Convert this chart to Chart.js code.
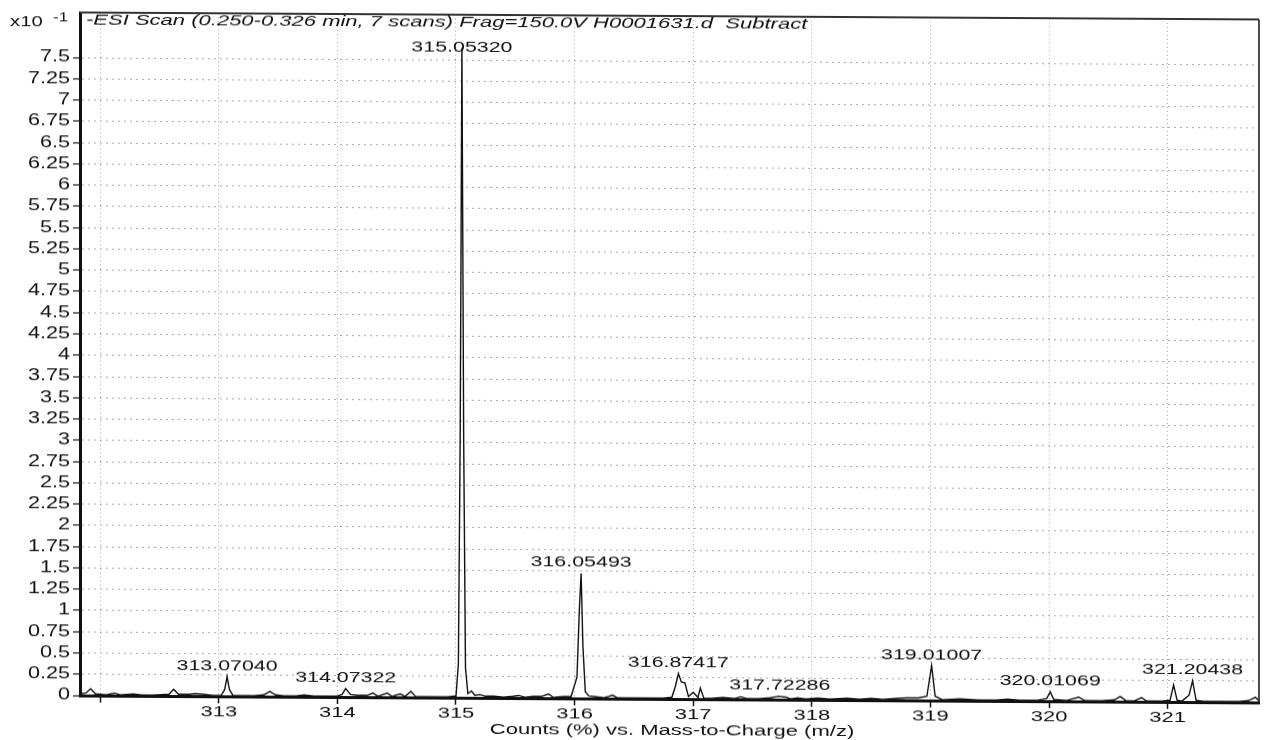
<!DOCTYPE html>
<html>
<head>
<meta charset="utf-8">
<script src="https://cdn.jsdelivr.net/npm/chart.js@4/dist/chart.umd.min.js"></script>
<style>
  html, body { margin: 0; padding: 0; background: #fff; overflow: hidden; }
  /* the scanned page is slightly sheared: right side sits ~7px lower */
  canvas { display: block; transform: skewY(0.34deg); transform-origin: 0 0; }
</style>
</head>
<body>
<canvas id="spectrum" width="1264" height="740"></canvas>
<script>
// Profile spectrum (m/z, counts x10^-1)
const mzValues = [
  311.83, 311.88, 311.92, 311.96, 312.05, 312.12, 312.17, 312.28, 312.35, 312.45,
  312.58, 312.62, 312.66, 312.75, 312.80, 312.88, 312.95, 313.02, 313.05, 313.07,
  313.09, 313.12, 313.20, 313.30, 313.38, 313.43, 313.48, 313.55, 313.65, 313.72,
  313.80, 313.92, 314.00, 314.04, 314.07, 314.11, 314.17, 314.25, 314.30, 314.34,
  314.42, 314.46, 314.53, 314.57, 314.62, 314.66, 314.75, 314.85, 314.93, 315.00,
  315.02, 315.035, 315.05, 315.065, 315.08, 315.10, 315.13, 315.16, 315.20, 315.25,
  315.32, 315.40, 315.48, 315.53, 315.58, 315.65, 315.72, 315.78, 315.82, 315.90,
  315.97, 316.02, 316.04, 316.055, 316.07, 316.09, 316.12, 316.18, 316.25, 316.32,
  316.36, 316.45, 316.55, 316.65, 316.75, 316.82, 316.85, 316.875, 316.90, 316.93,
  316.96, 317.00, 317.04, 317.06, 317.09, 317.15, 317.25, 317.35, 317.40, 317.45,
  317.55, 317.65, 317.72, 317.78, 317.82, 317.88, 317.95, 318.05, 318.15, 318.30,
  318.40, 318.50, 318.60, 318.70, 318.80, 318.90, 318.97, 319.01, 319.04, 319.10,
  319.25, 319.40, 319.55, 319.65, 319.75, 319.90, 319.98, 320.01, 320.04, 320.15,
  320.25, 320.30, 320.45, 320.55, 320.60, 320.65, 320.72, 320.78, 320.82, 320.95,
  321.02, 321.05, 321.08, 321.12, 321.18, 321.21, 321.24, 321.30, 321.45, 321.60,
  321.68, 321.74, 321.77
];
const counts = [
  0.02, 0.03, 0.08, 0.02, 0.01, 0.03, 0.01, 0.02, 0.01, 0.01,
  0.02, 0.08, 0.02, 0.02, 0.03, 0.02, 0.01, 0.01, 0.08, 0.23,
  0.08, 0.01, 0.01, 0.01, 0.02, 0.06, 0.02, 0.01, 0.01, 0.02,
  0.01, 0.01, 0.01, 0.03, 0.10, 0.03, 0.02, 0.02, 0.05, 0.01,
  0.05, 0.01, 0.04, 0.01, 0.07, 0.01, 0.01, 0.01, 0.01, 0.02,
  0.40, 3.00, 7.64, 3.00, 0.35, 0.05, 0.08, 0.03, 0.04, 0.02,
  0.02, 0.01, 0.02, 0.03, 0.01, 0.02, 0.02, 0.05, 0.01, 0.02,
  0.02, 0.25, 1.05, 1.47, 0.62, 0.08, 0.03, 0.02, 0.01, 0.04,
  0.01, 0.01, 0.01, 0.01, 0.01, 0.02, 0.15, 0.30, 0.20, 0.19,
  0.03, 0.08, 0.02, 0.13, 0.01, 0.01, 0.02, 0.01, 0.03, 0.01,
  0.01, 0.02, 0.04, 0.03, 0.01, 0.02, 0.01, 0.02, 0.01, 0.02,
  0.01, 0.02, 0.01, 0.02, 0.03, 0.03, 0.05, 0.41, 0.05, 0.01,
  0.02, 0.01, 0.01, 0.02, 0.01, 0.01, 0.03, 0.11, 0.02, 0.01,
  0.05, 0.01, 0.01, 0.02, 0.06, 0.01, 0.01, 0.05, 0.01, 0.01,
  0.02, 0.20, 0.02, 0.01, 0.08, 0.25, 0.02, 0.01, 0.01, 0.01,
  0.02, 0.06, 0.02
];

// Annotated peaks
const peakLabels = ['313.07040', '314.07322', '315.05320', '316.05493', '316.87417',
                    '317.72286', '319.01007', '320.01069', '321.20438'];
const peakMz     = [313.07, 314.07, 315.05, 316.055, 316.875, 317.73, 319.01, 320.01, 321.21];
const peakTop    = [0.23, 0.10, 7.64, 1.47, 0.30, 0.04, 0.41, 0.11, 0.25];

const xTicks = [312, 313, 314, 315, 316, 317, 318, 319, 320, 321];
const yTicks = [0, 0.25, 0.5, 0.75, 1, 1.25, 1.5, 1.75, 2, 2.25, 2.5, 2.75, 3, 3.25, 3.5,
                3.75, 4, 4.25, 4.5, 4.75, 5, 5.25, 5.5, 5.75, 6, 6.25, 6.5, 6.75, 7, 7.25, 7.5];

const titleText = '-ESI Scan (0.250-0.326 min, 7 scans) Frag=150.0V H0001631.d  Subtract';
const xTitle = 'Counts (%) vs. Mass-to-Charge (m/z)';

const FONT = '"Liberation Sans", Arial, sans-serif';

// the scan stretches all lettering sideways, so text is drawn widened
function wideText(ctx, txt, x, y, align, font, sx) {
  ctx.save();
  ctx.translate(x, y);
  ctx.scale(sx, 1);
  ctx.font = font;
  ctx.textAlign = align;
  ctx.fillText(txt, 0, 0);
  ctx.restore();
}

const textPlugin = {
  id: 'specText',
  afterDraw(chart) {
    const { ctx, chartArea: a, scales } = chart;
    ctx.save();

    // top and right frame lines
    ctx.strokeStyle = '#333';
    ctx.lineWidth = 2;
    ctx.beginPath();
    ctx.moveTo(a.left, a.top);
    ctx.lineTo(a.right, a.top);
    ctx.stroke();
    ctx.lineWidth = 1.5;
    ctx.strokeStyle = '#111';
    ctx.beginPath();
    ctx.moveTo(a.right, a.top);
    ctx.lineTo(a.right, a.bottom);
    ctx.stroke();

    ctx.fillStyle = '#111';
    ctx.textBaseline = 'middle';

    // tick labels
    const tickFont = '16px ' + FONT;
    yTicks.forEach(v => {
      wideText(ctx, String(v), 70, scales.y.getPixelForValue(v), 'right', tickFont, 1.35);
    });
    xTicks.forEach(v => {
      if (v === 312) return;
      wideText(ctx, String(v), scales.x.getPixelForValue(v), 711, 'center', '15.5px ' + FONT, 1.42);
    });

    // title
    wideText(ctx, titleText, 86, 20, 'left', 'italic 15.5px ' + FONT, 1.42);

    // exponent
    wideText(ctx, 'x10', 10, 22, 'left', '15px ' + FONT, 1.35);
    wideText(ctx, '-1', 53, 17, 'left', '13px ' + FONT, 1.3);

    // x axis title
    wideText(ctx, xTitle, 672, 727, 'center', '15.5px ' + FONT, 1.42);

    // peak labels (the tallest one is pushed down under the title)
    ctx.textBaseline = 'bottom';
    peakLabels.forEach((lbl, i) => {
      const px = scales.x.getPixelForValue(peakMz[i]);
      const py = scales.y.getPixelForValue(peakTop[i]);
      const yb = Math.max(py - 3, a.top + 40);
      wideText(ctx, lbl, px, yb, 'center', '15.5px ' + FONT, 1.38);
    });
    ctx.restore();
  }
};

new Chart(document.getElementById('spectrum'), {
  type: 'line',
  data: {
    datasets: [{
      data: mzValues.map((m, i) => ({ x: m, y: counts[i] })),
      borderColor: '#111',
      borderWidth: 1.4,
      pointRadius: 0,
      tension: 0,
      fill: false
    }]
  },
  options: {
    responsive: false,
    animation: false,
    layout: { padding: { top: 5, right: 5, left: 0, bottom: 0 } },
    plugins: { legend: { display: false }, tooltip: { enabled: false } },
    scales: {
      x: {
        type: 'linear',
        min: 311.83,
        max: 321.77,
        afterBuildTicks: s => { s.ticks = xTicks.map(v => ({ value: v })); },
        afterFit: s => { s.height = 45; },
        ticks: { color: 'rgba(0,0,0,0)', font: { family: FONT, size: 15 }, maxRotation: 0 },
        grid: {
          color: '#aaa',
          lineWidth: 1,
          tickLength: 7,
          tickColor: '#111',
          tickWidth: 1.5
        },
        border: { display: true, color: '#111', width: 3, dash: [1, 3] }
      },
      y: {
        min: 0,
        max: 8.03,
        afterBuildTicks: s => { s.ticks = yTicks.map(v => ({ value: v })); },
        afterFit: s => { s.width = 80; },
        ticks: { color: 'rgba(0,0,0,0)', font: { family: FONT, size: 15 } },
        grid: {
          color: '#aaa',
          lineWidth: 1,
          tickLength: 7,
          tickColor: '#111',
          tickWidth: 1.2
        },
        border: { display: true, color: '#111', width: 3, dash: [2, 4] }
      }
    }
  },
  plugins: [textPlugin]
});
</script>
</body>
</html>
